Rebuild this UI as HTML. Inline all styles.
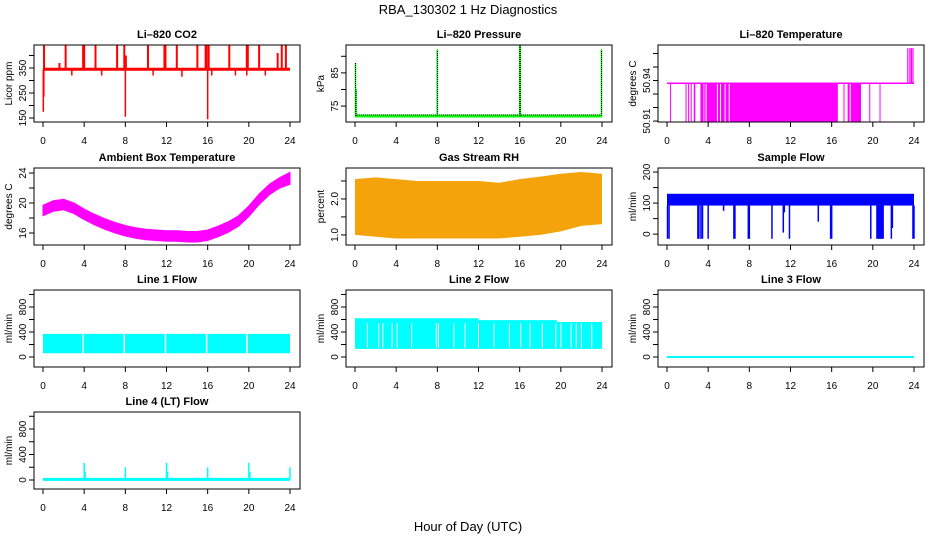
<!DOCTYPE html>
<html><head><meta charset="utf-8">
<style>
html,body{margin:0;padding:0;background:#fff;}
svg{display:block;font-family:"Liberation Sans",sans-serif;}
</style></head>
<body>
<svg id="fig" width="936" height="540" viewBox="0 0 936 540">
<text x="468" y="14" text-anchor="middle" font-size="13">RBA_130302  1 Hz Diagnostics</text>
<text x="468" y="531" text-anchor="middle" font-size="13">Hour of Day (UTC)</text>
</svg>
<script>
// ---- shared axis data ----
const xTicks = [0,4,8,12,16,20,24];

// ---- Li-820 CO2 ----
const co2Base = 345;
const co2SpikeHours = [0.1,1.6,2.2,3.9,4.0,5.1,7.2,7.9,8.05,10.2,11.8,11.9,13.0,15.0,15.8,15.9,16.1,18.1,19.8,19.9,21.0,22.8,23.2,23.6];
const co2SpikeValues = [440,370,440,440,440,440,440,440,400,440,440,440,440,440,440,440,440,440,440,440,440,410,440,440];
const co2DownHours = [0.03,0.08,2.8,5.7,8.0,10.7,13.5,16.0,16.4,18.7,19.8,21.6];
const co2DownValues = [175,235,320,320,155,320,315,145,320,320,320,320];

// ---- Li-820 Pressure ----
const presBase = 72;
const presSpikeHours = [0.05,0.1,8.0,16.0,16.05,23.95];
const presSpikeValues = [88,80,92,93.4,93.4,92];

// ---- Li-820 Temperature ----
const ltBase = 50.938;
const ltLow = 50.9093;
const ltDropStart = [0.3,1.8,2.05,2.3,2.6,3.25,3.62,3.85,4.95,5.25,5.7,6.1,17.15,17.55,17.85,19.65,20.65];
const ltDropEnd   = [0.35,1.9,2.12,2.36,2.75,3.55,3.75,4.85,5.15,5.6,6.0,16.6,17.22,17.75,18.85,19.72,20.72];
const ltUpHours = [23.4,23.6,23.75,23.9];
const ltUpValue = 50.964;

// ---- Ambient box temperature ----
const ambHours = [0,1,2,3,4,5,6,7,8,9,10,11,12,13,14,15,16,17,18,19,20,21,22,23,24];
const ambCenter = [19.0,19.6,19.8,19.3,18.5,17.8,17.2,16.7,16.3,16.0,15.8,15.7,15.6,15.6,15.5,15.5,15.7,16.2,16.8,17.6,18.9,20.5,21.8,22.7,23.3];
const ambHalfWidth = [0.7,0.7,0.7,0.7,0.7,0.7,0.7,0.7,0.7,0.7,0.7,0.7,0.7,0.7,0.7,0.7,0.7,0.7,0.7,0.7,0.7,0.7,0.7,0.7,0.8];

// ---- Gas stream RH ----
const rhHours = [0,2,4,6,8,10,12,14,16,18,20,22,24];
const rhUpper = [2.55,2.6,2.55,2.5,2.5,2.5,2.5,2.45,2.55,2.62,2.7,2.75,2.7];
const rhLower = [1.0,0.95,0.9,0.9,0.9,0.9,0.9,0.9,0.95,1.0,1.1,1.25,1.3];

// ---- Sample flow ----
const sfUpper = 130;
const sfLower = 92;
const sfDropHours = [0.05,0.2,3.0,3.1,3.3,3.45,4.0,6.5,6.6,7.9,8.0,10.2,11.9,15.9,16.0,19.8,20.4,20.5,20.6,20.7,20.8,20.9,21.0,21.8,23.9,24.0];
const sfDropValues = [-15,-15,-15,-15,-15,-15,-15,-15,-15,-15,-15,-15,-15,-15,-15,-15,-15,-15,-15,-15,-15,-15,-15,-15,-15,-15];
const sfPartialHours = [5.5,11.3,11.4,14.7,21.9];
const sfPartialValues = [75,5,70,40,20];

// ---- Line 1 flow ----
const l1Upper = 370;
const l1Lower = 60;
const l1GapHours = [3.9,7.9,11.9,15.9,19.8];

// ---- Line 2 flow ----
const l2SegStart = [0,12,19.6];
const l2SegEnd = [12,19.6,24];
const l2SegUpper = [620,590,560];
const l2Lower = 130;
const l2GapHours = [1.2,2.3,2.7,3.6,4.1,5.5,7.9,8.1,9.6,10.7,12.0,13.5,15.0,16.1,17.0,18.2,19.5,20.0,21.0,21.5,22.0,23.0];

// ---- Line 3 flow ----
const l3Value = 0;

// ---- Line 4 (LT) flow ----
const l4Base = 10;
const l4SpikeHours = [4.0,4.1,8.0,12.0,12.1,16.0,20.0,20.1,24.0];
const l4SpikeValues = [270,130,200,270,130,200,270,130,200];

const NS = 'http://www.w3.org/2000/svg';
const fig = document.getElementById('fig');
function mk(tag, attrs, parent){
  const e = document.createElementNS(NS, tag);
  for (const k in attrs) e.setAttribute(k, attrs[k]);
  (parent || fig).appendChild(e);
  return e;
}

function panel(c, r, title, ylab, dom, yTicks, yLabels, name){
  const L = [34,346,658][c], T = [45,168,290,412][r];
  const R = L + 266, B = T + 77;
  const g = mk('g', {});
  
  
  const x = h => L + 9 + h * (247/24);
  const y = v => B - (v - dom[0]) / (dom[1] - dom[0]) * 77;
  const plot = mk('g', {}, g);
  
  
  const box = mk('rect', {x:L, y:T, width:266, height:77, fill:'none', stroke:'#000', 'stroke-width':1}, g);
  
  
  const t = mk('text', {x:(L+R)/2, y:T-7, 'text-anchor':'middle', 'font-size':11, 'font-weight':'bold'}, g);
  t.textContent = title;
  
  
  for (const h of xTicks){
    const tk = mk('line', {x1:x(h), x2:x(h), y1:B, y2:B+5, stroke:'#000'}, g);
    
    
    const tl = mk('text', {x:x(h), y:B+22, 'text-anchor':'middle', 'font-size':10}, g);
    tl.textContent = h;
    
    
  }
  for (const v of yTicks){
    const tk = mk('line', {x1:L-5, x2:L, y1:y(v), y2:y(v), stroke:'#000'}, g);
    
    
  }
  for (const lab of yLabels){
    const yy = y(parseFloat(lab));
    const tl = mk('text', {x:L-8, y:yy, 'text-anchor':'middle', 'font-size':10, transform:`rotate(-90 ${L-8} ${yy})`}, g);
    tl.textContent = lab;
    
    
  }
  const yl = mk('text', {x:L-22, y:(T+B)/2, 'text-anchor':'middle', 'font-size':10, transform:`rotate(-90 ${L-22} ${(T+B)/2})`}, g);
  yl.textContent = ylab;
  
  
  return {x, y, g: plot};
}

// CO2
{
  const p = panel(0,0,'Li\u2013820 CO2','Licor ppm',[134,442],[150,200,250,300,350,400],['150','250','350'],'co2');
  const base = mk('line',{x1:p.x(0),x2:p.x(24),y1:p.y(co2Base),y2:p.y(co2Base),stroke:'#ff0000','stroke-width':3},p.g);
  
  
  co2SpikeHours.forEach((h,i)=>{
    const s = mk('line',{x1:p.x(h),x2:p.x(h),y1:p.y(co2Base),y2:p.y(co2SpikeValues[i]),stroke:'#ff0000','stroke-width':2},p.g);
    
    
  });
  co2DownHours.forEach((h,i)=>{
    const s = mk('line',{x1:p.x(h),x2:p.x(h),y1:p.y(co2Base),y2:p.y(co2DownValues[i]),stroke:'#ff0000','stroke-width':1.5},p.g);
    
    
  });
}
// Pressure
{
  const p = panel(1,0,'Li\u2013820 Pressure','kPa',[70.2,93.4],[75,80,85,90],['75','85'],'pressure');
  const base = mk('line',{x1:p.x(0),x2:p.x(24),y1:p.y(presBase),y2:p.y(presBase),stroke:'#00ff00','stroke-width':3},p.g);
  
  
  const dot = mk('line',{x1:p.x(0),x2:p.x(24),y1:p.y(presBase)-1,y2:p.y(presBase)-1,stroke:'#000','stroke-width':1,'stroke-dasharray':'1 1'},p.g);
  
  
  presSpikeHours.forEach((h,i)=>{
    const s = mk('line',{x1:p.x(h),x2:p.x(h),y1:p.y(presBase),y2:p.y(presSpikeValues[i]),stroke:'#00ff00','stroke-width':1.5},p.g);
    
    
    const d = mk('line',{x1:p.x(h),x2:p.x(h),y1:p.y(presBase),y2:p.y(presSpikeValues[i]),stroke:'#000','stroke-width':1,'stroke-dasharray':'1 1'},p.g);
    
    
  });
}
// Li-820 temperature
{
  const p = panel(2,0,'Li\u2013820 Temperature','degrees C',[50.9093,50.9663],[50.91,50.92,50.93,50.94,50.95,50.96],['50.91','50.94'],'licor-temp');
  const base = mk('line',{x1:p.x(0),x2:p.x(24),y1:p.y(ltBase),y2:p.y(ltBase),stroke:'#ff00ff','stroke-width':1.5},p.g);
  
  
  ltDropStart.forEach((s,i)=>{
    const w = Math.max(1, p.x(ltDropEnd[i]) - p.x(s));
    const r = mk('rect',{x:p.x(s),y:p.y(ltBase),width:w,height:p.y(ltLow)-p.y(ltBase),fill:'#ff00ff'},p.g);
    
    
  });
  ltUpHours.forEach(h=>{
    const s = mk('line',{x1:p.x(h),x2:p.x(h),y1:p.y(ltBase),y2:p.y(ltUpValue),stroke:'#ff00ff','stroke-width':1.2},p.g);
    
    
  });
}
// Ambient
{
  const p = panel(0,1,'Ambient Box Temperature','degrees C',[14.4,24.67],[16,18,20,22,24],['16','20','24'],'ambient-temp');
  const up = ambHours.map((h,i)=>p.x(h)+','+p.y(ambCenter[i]+ambHalfWidth[i]));
  const lo = ambHours.map((h,i)=>p.x(h)+','+p.y(ambCenter[i]-ambHalfWidth[i])).reverse();
  const poly = mk('polygon',{points:up.concat(lo).join(' '),fill:'#ff00ff',stroke:'#ff00ff','stroke-width':1},p.g);
  
  
}
// RH
{
  const p = panel(1,1,'Gas Stream RH','percent',[0.72,2.86],[1.0,1.5,2.0,2.5],['1.0','2.0'],'gas-rh');
  const up = rhHours.map((h,i)=>p.x(h)+','+p.y(rhUpper[i]));
  const lo = rhHours.map((h,i)=>p.x(h)+','+p.y(rhLower[i])).reverse();
  const poly = mk('polygon',{points:up.concat(lo).join(' '),fill:'#f5a30a'},p.g);
  
  
}
// Sample flow
{
  const p = panel(2,1,'Sample Flow','ml/min',[-35,213],[0,50,100,150,200],['0','100','200'],'sample-flow');
  const band = mk('rect',{x:p.x(0),y:p.y(sfUpper),width:p.x(24)-p.x(0),height:p.y(sfLower)-p.y(sfUpper),fill:'#0000ff'},p.g);
  
  
  sfDropHours.forEach((h,i)=>{
    const s = mk('line',{x1:p.x(h),x2:p.x(h),y1:p.y(sfLower),y2:p.y(sfDropValues[i]),stroke:'#0000ff','stroke-width':1.5},p.g);
    
    
  });
  sfPartialHours.forEach((h,i)=>{
    const s = mk('line',{x1:p.x(h),x2:p.x(h),y1:p.y(sfLower),y2:p.y(sfPartialValues[i]),stroke:'#0000ff','stroke-width':1.5},p.g);
    
    
  });
}
// Line 1
{
  const p = panel(0,2,'Line 1 Flow','ml/min',[-160,1072],[0,200,400,600,800,1000],['0','400','800'],'line1-flow');
  const band = mk('rect',{x:p.x(0),y:p.y(l1Upper),width:p.x(24)-p.x(0),height:p.y(l1Lower)-p.y(l1Upper),fill:'#00ffff'},p.g);
  
  
  l1GapHours.forEach(h=>{
    const s = mk('line',{x1:p.x(h),x2:p.x(h),y1:p.y(l1Upper),y2:p.y(l1Lower),stroke:'#fff','stroke-width':1.5},p.g);
    
    
  });
}
// Line 2
{
  const p = panel(1,2,'Line 2 Flow','ml/min',[-160,1072],[0,200,400,600,800,1000],['0','400','800'],'line2-flow');
  l2SegStart.forEach((s,i)=>{
    const r = mk('rect',{x:p.x(s),y:p.y(l2SegUpper[i]),width:p.x(l2SegEnd[i])-p.x(s),height:p.y(l2Lower)-p.y(l2SegUpper[i]),fill:'#00ffff'},p.g);
    
    
  });
  l2GapHours.forEach(h=>{
    const s = mk('line',{x1:p.x(h),x2:p.x(h),y1:p.y(540),y2:p.y(l2Lower+20),stroke:'#fff','stroke-width':1},p.g);
    
    
  });
}
// Line 3
{
  const p = panel(2,2,'Line 3 Flow','ml/min',[-160,1072],[0,200,400,600,800,1000],['0','400','800'],'line3-flow');
  const l = mk('line',{x1:p.x(0),x2:p.x(24),y1:p.y(l3Value),y2:p.y(l3Value),stroke:'#00ffff','stroke-width':2},p.g);
  
  
}
// Line 4
{
  const p = panel(0,3,'Line 4 (LT) Flow','ml/min',[-141,1067],[0,200,400,600,800,1000],['0','400','800'],'line4-flow');
  const l = mk('line',{x1:p.x(0),x2:p.x(24),y1:p.y(l4Base),y2:p.y(l4Base),stroke:'#00ffff','stroke-width':3},p.g);
  
  
  l4SpikeHours.forEach((h,i)=>{
    const s = mk('line',{x1:p.x(h),x2:p.x(h),y1:p.y(l4Base),y2:p.y(l4SpikeValues[i]),stroke:'#00ffff','stroke-width':1.5},p.g);
    
    
  });
}
</script>
</body></html>
